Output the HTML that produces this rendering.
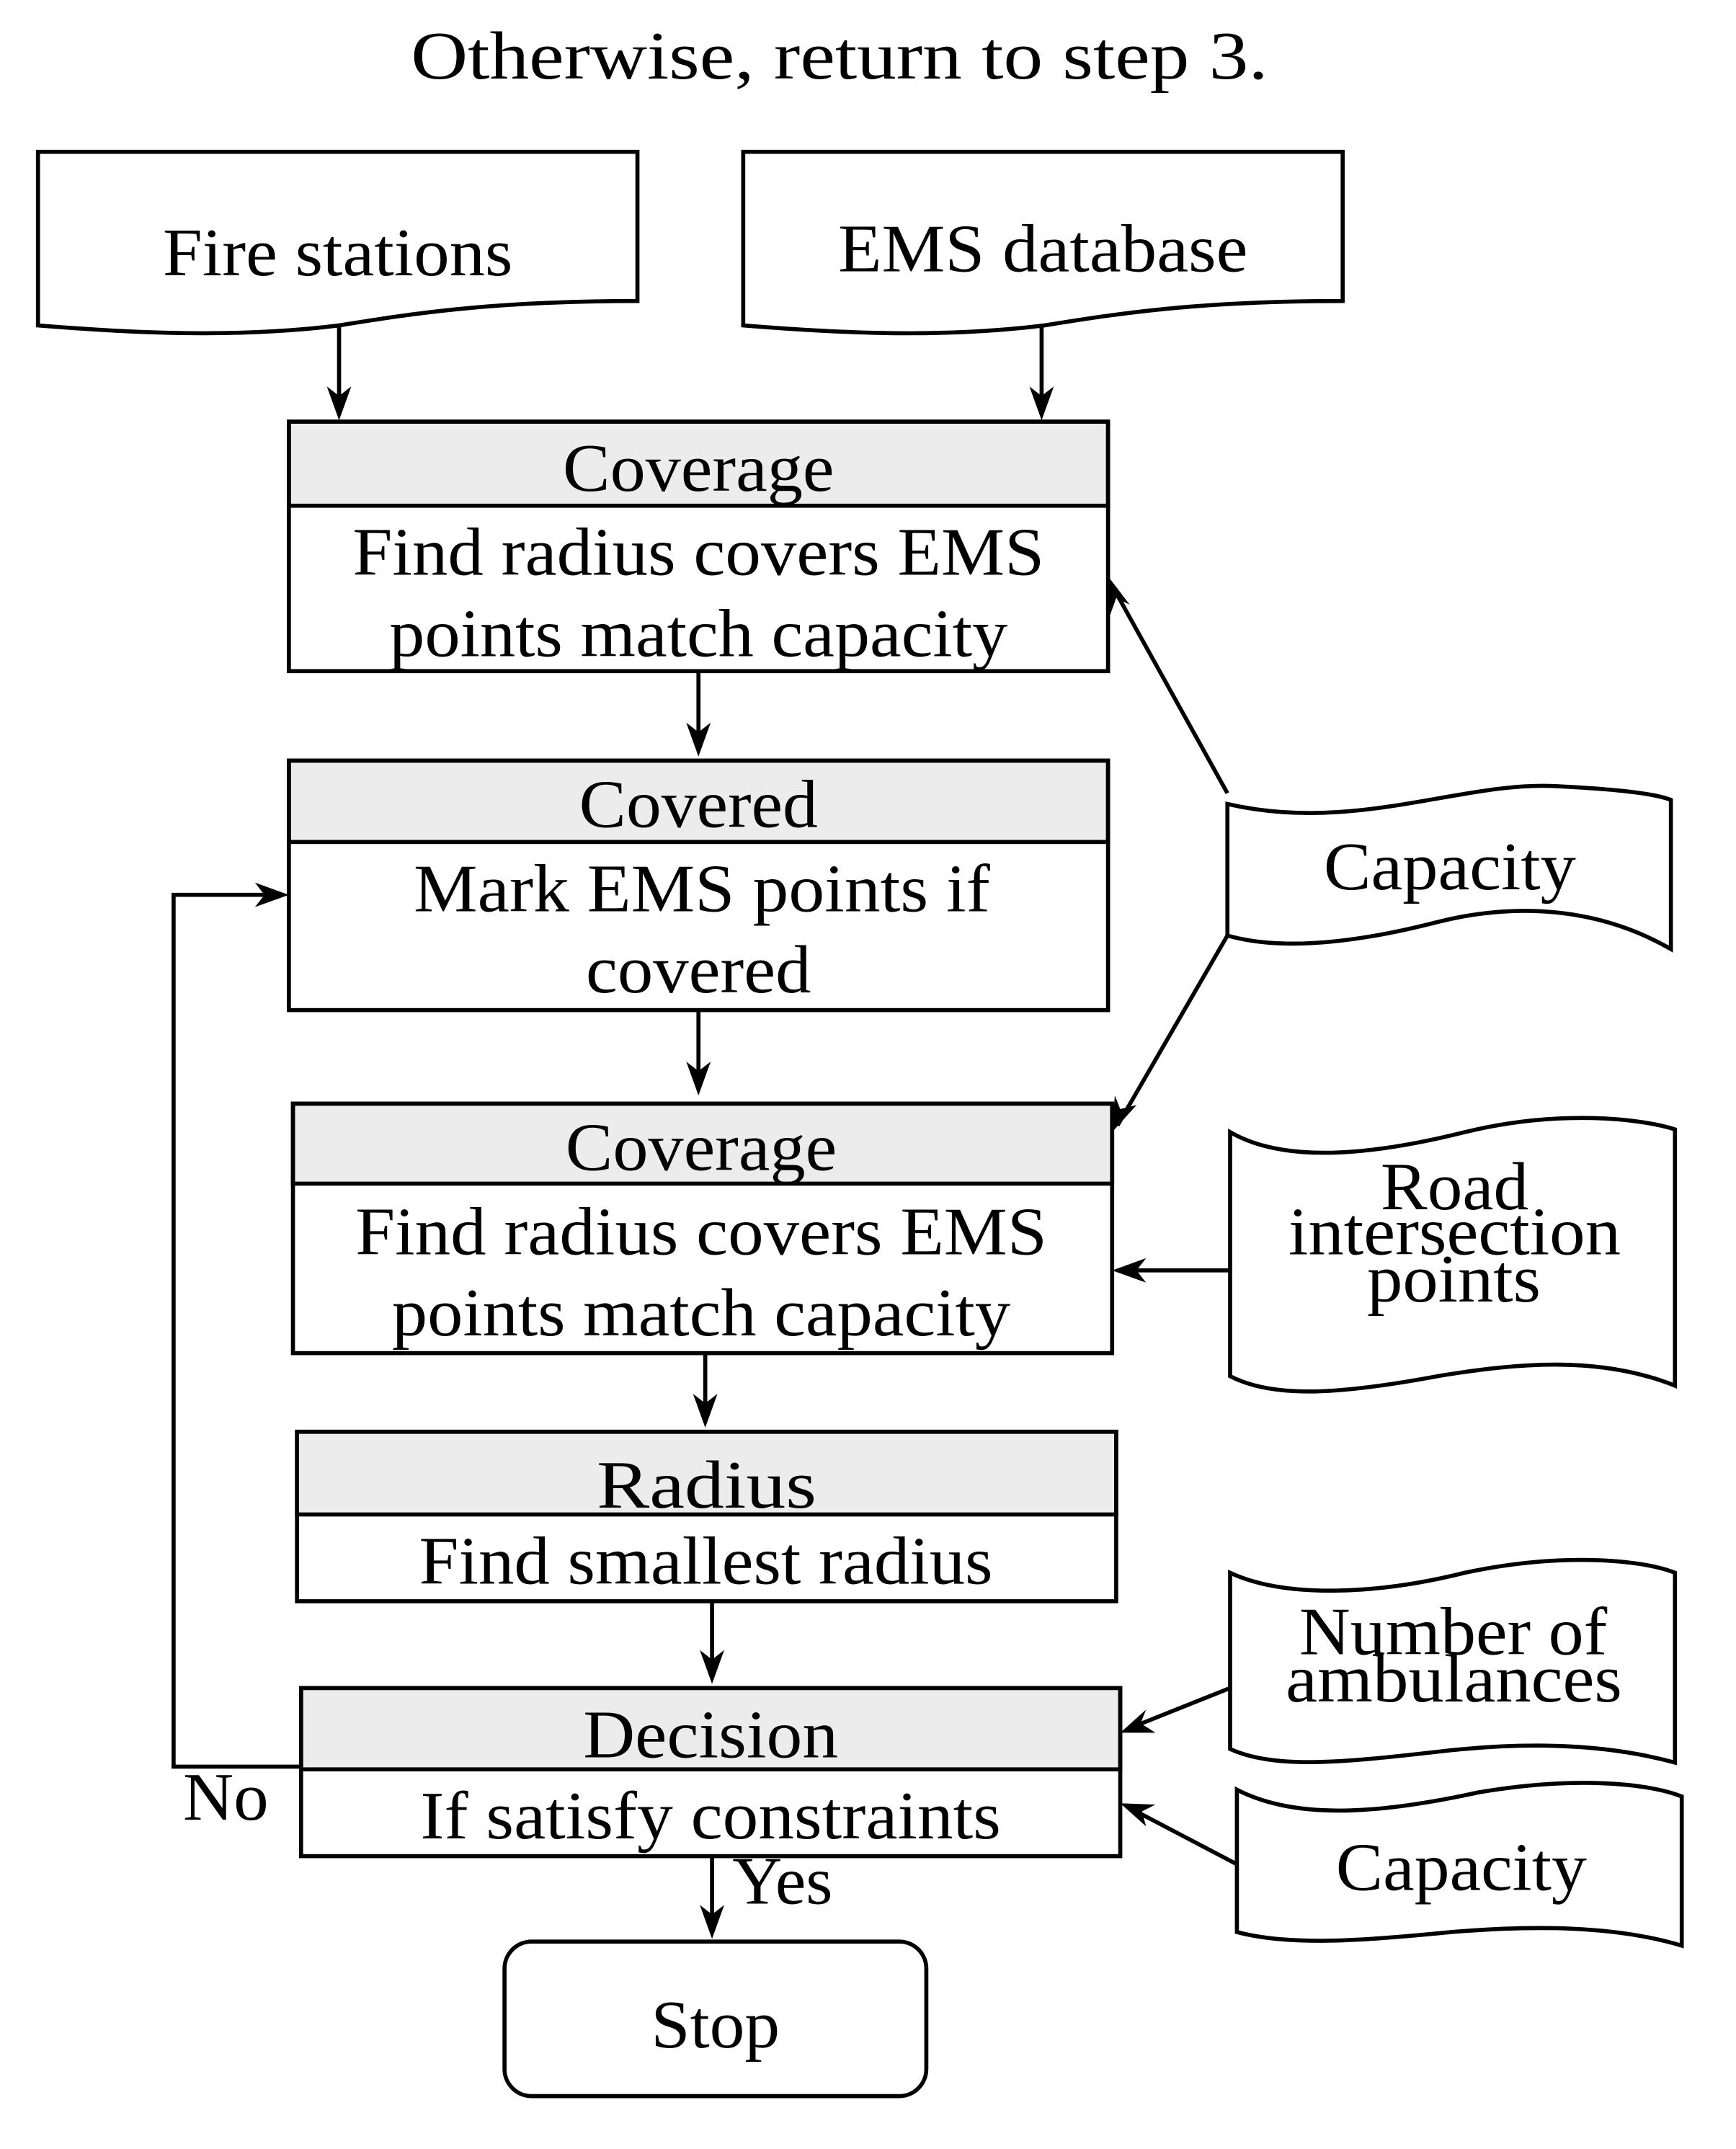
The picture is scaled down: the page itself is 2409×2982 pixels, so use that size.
<!DOCTYPE html>
<html><head><meta charset="utf-8"><style>
html,body{margin:0;padding:0;background:#fff}
svg{display:block}
text{font-family:"Liberation Serif",serif;fill:#000}
</style></head><body>
<svg width="2409" height="2982" viewBox="0 0 1280 1585" preserveAspectRatio="none" xmlns="http://www.w3.org/2000/svg">
<g stroke="#000" stroke-width="3" fill="none">
<path d="M28,112 H470 V222 C360,222 300,232 250,240 C170,250 90,245 28,240 Z" fill="#fff"/>
<path d="M548,112 H990 V222 C880,222 820,232 770,240 C690,250 610,245 548,240 Z" fill="#fff"/>
<rect x="213" y="311" width="604" height="62" fill="#ececec"/>
<rect x="213" y="311" width="604" height="184"/>
<rect x="213" y="561" width="604" height="60" fill="#ececec"/>
<rect x="213" y="561" width="604" height="184"/>
<rect x="216" y="814" width="604" height="59" fill="#ececec"/>
<rect x="216" y="814" width="604" height="184"/>
<rect x="219" y="1056" width="604" height="61" fill="#ececec"/>
<rect x="219" y="1056" width="604" height="125"/>
<rect x="222" y="1245" width="604" height="60" fill="#ececec"/>
<rect x="222" y="1245" width="604" height="124"/>
<rect x="372" y="1432" width="311" height="114" rx="20"/>
<path d="M905,593 C1000,615 1080,575 1150,580 C1190,582 1220,585 1232,590 V700 C1180,670 1120,665 1060,680 C990,698 940,700 905,690 Z"/>
<path d="M907,835 C950,860 1020,850 1080,835 C1150,818 1210,825 1235,833 V1022 C1180,1000 1120,1005 1060,1015 C990,1028 940,1032 907,1015 Z"/>
<path d="M907,1160 C950,1180 1020,1175 1080,1160 C1150,1145 1210,1150 1235,1160 V1300 C1180,1285 1120,1285 1060,1292 C990,1300 940,1305 907,1290 Z"/>
<path d="M912,1320 C960,1345 1030,1335 1090,1322 C1160,1310 1215,1315 1240,1325 V1435 C1190,1420 1130,1420 1070,1425 C1000,1432 950,1435 912,1425 Z"/>
<path d="M250,240 V305"/><path d="M768,240 V305"/>
<path d="M515,495 V553"/><path d="M515,745 V803"/>
<path d="M520,998 V1048"/><path d="M525,1181 V1237"/>
<path d="M525,1369 V1425"/>
<path d="M222,1303 H128 V660 H207"/>
<path d="M905,585 L820,432"/>
<path d="M905,690 L824,830"/>
<path d="M907,937 L826,937"/>
<path d="M907,1245 L832,1275"/>
<path d="M912,1375 L832,1333"/>
</g>
<g fill="#000">
<path d="M250,310 L241,285 L250,292 L259,285 Z"/>
<path d="M768,310 L759,285 L768,292 L777,285 Z"/>
<path d="M515,558 L506,533 L515,540 L524,533 Z"/>
<path d="M515,808 L506,783 L515,790 L524,783 Z"/>
<path d="M520,1053 L511,1028 L520,1035 L529,1028 Z"/>
<path d="M525,1242 L516,1217 L525,1224 L534,1217 Z"/>
<path d="M525,1430 L516,1405 L525,1412 L534,1405 Z"/>
<path d="M213,660 L188,651 L195,660 L188,669 Z"/>
<path d="M817,425 L833,446 L823,441 L818,455 Z"/>
<path d="M820,835 L822,808 L826,818 L838,815 Z"/>
<path d="M820,937 L845,928 L838,937 L845,946 Z"/>
<path d="M826,1278 L845,1261 L841,1271 L852,1278 Z"/>
<path d="M826,1330 L852,1331 L842,1336 L845,1347 Z"/>
</g>
<g font-size="50" lengthAdjust="spacingAndGlyphs">
<text x="303" y="58" textLength="632" lengthAdjust="spacingAndGlyphs">Otherwise, return to step 3.</text>
<text x="120" y="203" textLength="258" lengthAdjust="spacingAndGlyphs">Fire stations</text>
<text x="618" y="200" textLength="302" lengthAdjust="spacingAndGlyphs">EMS database</text>
<text x="415" y="362" textLength="200" lengthAdjust="spacingAndGlyphs">Coverage</text>
<text x="260" y="424" textLength="510" lengthAdjust="spacingAndGlyphs">Find radius covers EMS</text>
<text x="287" y="484" textLength="456" lengthAdjust="spacingAndGlyphs">points match capacity</text>
<text x="427" y="610" textLength="176" lengthAdjust="spacingAndGlyphs">Covered</text>
<text x="305" y="672" textLength="425" lengthAdjust="spacingAndGlyphs">Mark EMS points if</text>
<text x="432" y="732" textLength="166" lengthAdjust="spacingAndGlyphs">covered</text>
<text x="417" y="863" textLength="200" lengthAdjust="spacingAndGlyphs">Coverage</text>
<text x="262" y="925" textLength="510" lengthAdjust="spacingAndGlyphs">Find radius covers EMS</text>
<text x="289" y="985" textLength="456" lengthAdjust="spacingAndGlyphs">points match capacity</text>
<text x="440" y="1112" textLength="162" lengthAdjust="spacingAndGlyphs">Radius</text>
<text x="309" y="1168" textLength="423" lengthAdjust="spacingAndGlyphs">Find smallest radius</text>
<text x="430" y="1296" textLength="188" lengthAdjust="spacingAndGlyphs">Decision</text>
<text x="310" y="1356" textLength="428" lengthAdjust="spacingAndGlyphs">If satisfy constraints</text>
<text x="480" y="1510" textLength="95" lengthAdjust="spacingAndGlyphs">Stop</text>
<text x="976" y="656" textLength="186" lengthAdjust="spacingAndGlyphs">Capacity</text>
<text x="1018" y="892" textLength="109" lengthAdjust="spacingAndGlyphs">Road</text>
<text x="950" y="925" textLength="245" lengthAdjust="spacingAndGlyphs">intersection</text>
<text x="1008" y="960" textLength="128" lengthAdjust="spacingAndGlyphs">points</text>
<text x="958" y="1220" textLength="227" lengthAdjust="spacingAndGlyphs">Number of</text>
<text x="948" y="1255" textLength="248" lengthAdjust="spacingAndGlyphs">ambulances</text>
<text x="985" y="1394" textLength="185" lengthAdjust="spacingAndGlyphs">Capacity</text>
<text x="540" y="1404" textLength="74" lengthAdjust="spacingAndGlyphs">Yes</text>
<text x="135" y="1342" textLength="63" lengthAdjust="spacingAndGlyphs">No</text>
</g>
</svg>
</body></html>
